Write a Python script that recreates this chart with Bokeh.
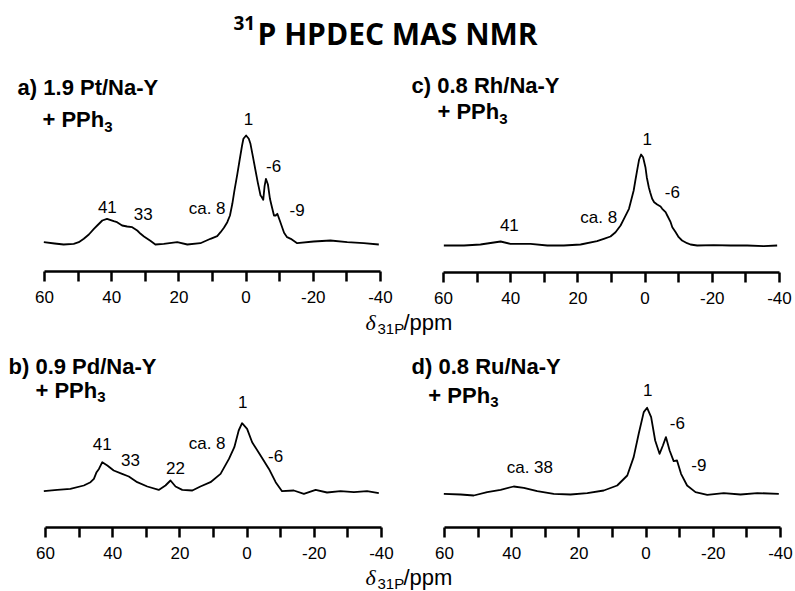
from bokeh.plotting import figure
from bokeh.models import Range1d, FixedTicker, Label, LinearAxis, CustomJSTickFormatter
from bokeh.embed import file_html
from bokeh.resources import INLINE

# ---------------- data ----------------
title_sup = "31"
title_main = "P HPDEC MAS NMR"
major_ticks = [60, 40, 20, 0, -20, -40]
minor_ticks = [50, 30, 10, -10, -30]
axis_label = ["\u03b4", "31P", "/ppm"]

# a) 1.9 Pt/Na-Y + PPh3
a_ppm = [60.2, 57.0, 54.3, 51.3, 49.8, 48.3, 46.8, 45.3, 44.3, 42.8, 41.4, 39.4, 38.4, 36.9, 35.4,
         33.9, 32.4, 31.4, 30.4, 29.4, 28.5, 27.0, 24.5, 20.5, 17.5, 13.6, 10.6, 8.6, 7.6, 6.6,
         5.6, 4.8, 4.1, 3.5, 2.6, 1.9, 1.2, 0.8, 0.0, -0.8, -1.3, -2.0, -2.8, -3.5, -4.3,
         -4.6, -5.1, -5.5, -5.9, -6.5, -7.1, -7.5, -8.3, -8.8, -9.3, -10.1, -11.3, -12.2, -13.3, -15.2,
         -20.1, -25.1, -30.1, -35.0, -39.5]
a_int = [2.3, 1.0, 0.0, 0.7, 2.3, 5.7, 10.0, 15.7, 19.0, 24.0, 25.7, 23.3, 22.3, 19.0, 18.0,
         17.3, 14.0, 10.7, 8.0, 5.7, 3.7, 0.0, 0.7, 2.3, 0.0, 1.3, 5.7, 8.3, 12.3, 16.7,
         22.3, 29.0, 40.7, 53.3, 70.7, 85.0, 99.0, 105.7, 109.0, 105.7, 100.7, 88.3, 74.0, 61.7, 49.0,
         47.7, 44.7, 58.3, 65.7, 60.0, 45.7, 40.0, 29.0, 29.0, 30.7, 23.3, 11.7, 7.3, 5.7, 1.3,
         3.0, 4.0, 2.3, 1.3, 0.0]
a_title = ["a) 1.9 Pt/Na-Y", "+ PPh", "3"]
a_ann_text = ["41", "33", "ca. 8", "1", "-6", "-9"]
a_ann_ppm = [41.3, 30.6, 11.6, -0.7, -8.2, -15.2]
a_ann_int = [31.0, 24.0, 29.0, 119.0, 71.3, 27.3]

# c) 0.8 Rh/Na-Y + PPh3
c_ppm = [59.9, 53.9, 49.0, 43.0, 40.1, 34.1, 29.1, 24.2, 19.2, 14.3, 12.3, 10.3, 8.8, 7.3, 6.3,
         4.8, 4.3, 3.4, 2.9, 2.2, 1.8, 1.2, 0.6, -0.1, -0.5, -1.1, -1.5, -2.1, -2.7, -3.6,
         -4.6, -5.1, -6.1, -6.6, -7.6, -8.1, -9.1, -10.0, -11.0, -12.5, -13.5, -15.5, -20.4, -25.4, -30.4,
         -35.3, -39.3]
c_int = [0.0, 0.0, 1.0, 4.0, 1.7, 1.7, 0.0, 0.0, 1.0, 4.3, 6.7, 9.0, 13.3, 20.0, 26.7,
         36.7, 43.3, 55.0, 65.0, 78.3, 85.7, 91.0, 88.3, 78.3, 68.3, 58.3, 53.3, 46.7, 43.3, 41.0,
         39.0, 36.7, 33.3, 30.0, 23.3, 18.3, 13.3, 8.3, 5.0, 2.3, 1.0, 0.0, 0.3, 0.0, 0.0,
         -0.7, 0.0]
c_title = ["c) 0.8 Rh/Na-Y", "+ PPh", "3"]
c_ann_text = ["1", "-6", "ca. 8", "41"]
c_ann_ppm = [-0.6, -8.1, 13.8, 40.4]
c_ann_int = [100.0, 46.7, 21.7, 13.3]

# b) 0.9 Pd/Na-Y + PPh3
b_ppm = [60.5, 56.5, 52.6, 48.6, 46.6, 45.6, 44.8, 44.1, 43.1, 41.6, 39.7, 37.2, 35.2, 32.7, 29.7,
         26.3, 24.3, 22.8, 21.3, 19.3, 16.3, 13.9, 10.9, 7.9, 5.4, 3.8, 2.5, 1.5, 0.0, -1.5,
         -4.0, -6.5, -8.5, -10.4, -13.9, -16.9, -20.4, -23.8, -27.8, -31.8, -35.7, -39.2]
b_int = [0.0, 1.3, 2.3, 5.7, 9.0, 12.3, 19.0, 22.3, 29.0, 25.7, 20.7, 17.3, 14.7, 9.0, 4.7,
         1.3, 5.7, 10.7, 4.7, 1.3, 0.7, 4.7, 9.0, 17.3, 32.3, 44.0, 60.7, 68.0, 62.3, 49.0,
         35.7, 22.3, 9.0, 0.0, 0.7, -2.7, 1.3, -1.3, 0.0, -1.0, 0.0, -2.0]
b_title = ["b) 0.9 Pd/Na-Y", "+ PPh", "3"]
b_ann_text = ["41", "33", "22", "ca. 8", "1", "-6"]
b_ann_ppm = [43.1, 34.7, 21.3, 11.9, 1.3, -8.5]
b_ann_int = [40.7, 24.0, 16.7, 40.7, 82.3, 28.0]

# d) 0.8 Ru/Na-Y + PPh3
d_ppm = [60.2, 55.2, 51.3, 47.3, 43.3, 39.4, 36.4, 32.4, 27.5, 22.5, 17.5, 12.6, 8.6, 5.6, 3.7,
         2.2, 0.7, -0.3, -1.5, -2.7, -4.0, -5.0, -5.9, -7.0, -8.2, -9.2, -10.4, -12.2, -14.7, -18.2,
         -23.1, -28.1, -33.1, -39.5]
d_int = [0.0, -0.7, -1.7, 1.7, 4.0, 7.3, 6.0, 2.7, 0.0, -0.7, 0.7, 3.3, 8.3, 18.3, 36.7,
         60.0, 81.7, 86.0, 76.7, 53.3, 40.0, 48.3, 56.7, 43.3, 32.7, 33.3, 20.0, 8.3, 1.7, -1.0,
         0.7, -0.7, 0.7, 0.0]
d_title = ["d) 0.8 Ru/Na-Y", "+ PPh", "3"]
d_ann_text = ["ca. 38", "1", "-6", "-9"]
d_ann_ppm = [34.6, -0.5, -9.3, -15.7]
d_ann_int = [20.0, 96.7, 64.0, 22.3]

# ---------------- layout / styling ----------------
W, H = 795, 591
PX_PER_PPM = 3.36
SANS = "Liberation Sans"
K = 0.4   # baseline correction (fraction of font size) for Label text


def lab(x, y, text, size, **kw):
    """Label whose baseline lands at y (pixel units)."""
    return Label(x=x, y=y + K * size, text=text, text_font_size=f"{size}px",
                 text_color="black", text_baseline="alphabetic", **kw)


p = figure(width=W, height=H, x_range=Range1d(0, W), y_range=Range1d(0, H),
           output_backend="svg", toolbar_location=None,
           x_axis_type=None, y_axis_type=None, min_border=0)
p.min_border_left = p.min_border_right = p.min_border_top = p.min_border_bottom = 0
p.outline_line_color = None
p.background_fill_color = "white"
p.border_fill_color = "white"

# panel geometry: (x pixel of 60 ppm, pixel height of baseline, pixel height of axis line)
panels = [
    ("a", 44, 347, 320, a_ppm, a_int, a_title, ((68.0, 148), (60.6, 116)), a_ann_text, a_ann_ppm, a_ann_int),
    ("c", 443, 346, 319, c_ppm, c_int, c_title, ((69.5, 151.7), (61.8, 125)), c_ann_text, c_ann_ppm, c_ann_int),
    ("b", 45, 100.3, 64, b_ppm, b_int, b_title, ((71.0, 115.7), (63.0, 92.4)), b_ann_text, b_ann_ppm, b_ann_int),
    ("d", 444, 97.7, 64, d_ppm, d_int, d_title, ((69.8, 118.3), (64.8, 90)), d_ann_text, d_ann_ppm, d_ann_int),
]

fmt = CustomJSTickFormatter(code="return tick.toString();")

for name, x60, y0, yaxis, ppm, inten, title, tpos, ann_t, ann_x, ann_y in panels:
    p.extra_x_ranges[name] = Range1d(60 + x60 / PX_PER_PPM, 60 - (W - x60) / PX_PER_PPM)
    p.extra_y_ranges[name] = Range1d(-y0, H - y0)
    p.line(ppm, inten, x_range_name=name, y_range_name=name,
           line_color="black", line_width=1.8, line_join="round")
    ax = LinearAxis(x_range_name=name, fixed_location=yaxis, bounds=(-40, 60))
    ax.ticker = FixedTicker(ticks=major_ticks, minor_ticks=minor_ticks)
    ax.formatter = fmt
    ax.axis_line_width = 2.5
    ax.axis_line_color = "black"
    ax.major_tick_line_width = 2.5
    ax.minor_tick_line_width = 2.5
    ax.major_tick_line_color = "black"
    ax.minor_tick_line_color = "black"
    ax.major_tick_out = 10
    ax.major_tick_in = 0
    ax.minor_tick_out = 10
    ax.minor_tick_in = 0
    ax.major_label_standoff = 9
    ax.major_label_text_font = SANS
    ax.major_label_text_font_size = "17px"
    ax.major_label_text_color = "black"
    p.add_layout(ax, "below")

    (x1, y1), (x2, y2) = tpos
    rn = dict(x_range_name=name, y_range_name=name, text_font=SANS)
    p.add_layout(lab(x1, y1, title[0], 22, text_font_style="bold", text_align="left", **rn))
    p.add_layout(lab(x2, y2, title[1], 22, text_font_style="bold", text_align="left", **rn))
    p.add_layout(lab(x2 - 18.4, y2 - 4, title[2], 15, text_font_style="bold", text_align="left", **rn))
    for t, x, y in zip(ann_t, ann_x, ann_y):
        p.add_layout(lab(x, y, t, 17, text_align="center", **rn))

# title (pixel coordinates of the default ranges)
p.add_layout(lab(233, 561, title_sup, 19, text_font="Open Sans", text_font_style="bold"))
p.add_layout(lab(257, 546, title_main, 30, text_font="Open Sans", text_font_style="bold"))

# shared axis labels
for yb in (260, 5):
    p.add_layout(lab(365, yb, axis_label[0], 22, text_font="Liberation Serif", text_font_style="italic"))
    p.add_layout(lab(377, yb - 3, axis_label[1], 15, text_font=SANS))
    p.add_layout(lab(403, yb, axis_label[2], 22, text_font=SANS))

with open("out.html", "w") as fh:
    fh.write(file_html(p, INLINE))
